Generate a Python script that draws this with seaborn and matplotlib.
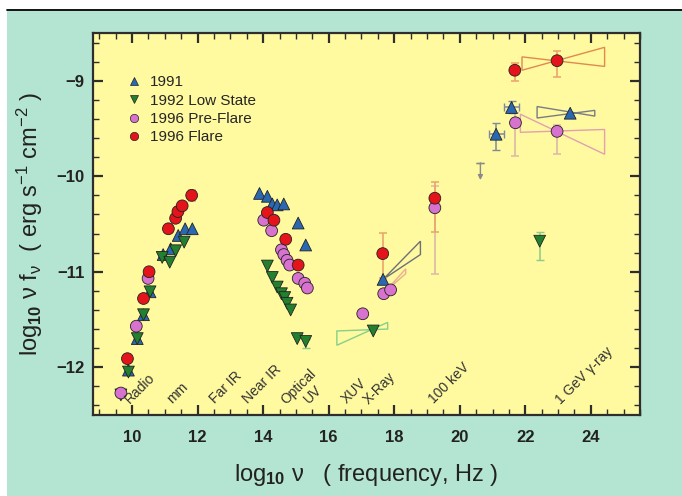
import matplotlib
matplotlib.use("Agg")
import matplotlib.pyplot as plt
from matplotlib.patches import Rectangle, Polygon
from matplotlib.lines import Line2D
from matplotlib.ticker import MultipleLocator
import pandas as pd
import seaborn as sns

# log10 frequency (Hz) and log10 nu F_nu (erg s^-1 cm^-2) for each epoch
nu_1991 = [9.89, 10.16, 10.35, 10.55, 10.95, 11.18, 11.41, 11.62, 11.84,
           13.89, 14.13, 14.28, 14.43, 14.63, 15.07, 15.30,
           17.66, 21.11, 21.58, 23.37]
f_1991 = [-12.03, -11.70, -11.45, -11.21, -10.82, -10.76, -10.62, -10.55, -10.55,
          -10.18, -10.21, -10.29, -10.30, -10.29, -10.49, -10.72,
          -11.08, -9.56, -9.28, -9.34]

nu_1992 = [9.66, 9.89, 10.16, 10.35, 10.55, 10.92, 11.15, 11.33, 11.59,
           14.13, 14.28, 14.43, 14.56, 14.66, 14.73, 14.84, 15.04, 15.30,
           17.36, 22.44]
f_1992 = [-12.29, -12.05, -11.70, -11.45, -11.21, -10.85, -10.90, -10.78, -10.69,
          -10.94, -11.06, -11.16, -11.23, -11.27, -11.33, -11.40, -11.70, -11.73,
          -11.62, -10.68]

nu_pre = [9.66, 10.13, 10.49,
          14.02, 14.26, 14.56, 14.63, 14.73, 14.81, 15.07, 15.27, 15.35,
          17.04, 17.68, 17.89, 19.24, 21.70, 22.97]
f_pre = [-12.27, -11.57, -11.07,
         -10.46, -10.57, -10.77, -10.82, -10.88, -10.93, -11.07, -11.12, -11.17,
         -11.44, -11.23, -11.19, -10.33, -9.44, -9.53]

nu_flare = [9.86, 10.35, 10.52, 11.11, 11.33, 11.40, 11.53, 11.82,
            14.13, 14.33, 14.69, 15.07,
            17.65, 19.24, 21.68, 22.97]
f_flare = [-11.91, -11.28, -11.00, -10.55, -10.44, -10.37, -10.31, -10.20,
           -10.38, -10.46, -10.66, -10.93,
           -10.81, -10.23, -8.89, -8.79]

# error bars: position, lower and upper ends (log10 nu F_nu), half width in log10 nu
err_flare_nu = [11.82, 17.65, 19.24, 21.68, 22.97]
err_flare_lo = [-10.26, -11.07, -10.58, -9.00, -8.96]
err_flare_hi = [-10.14, -10.59, -10.06, -8.81, -8.69]

err_pre_nu = [19.24, 21.70, 22.97]
err_pre_lo = [-11.02, -9.79, -9.77]
err_pre_hi = [-10.10, -9.34, -9.46]

err_1991_nu = [21.11, 21.58]
err_1991_f = [-9.56, -9.28]
err_1991_lo = [-9.72, -9.34]
err_1991_hi = [-9.44, -9.21]
err_1991_dnu = [0.23, 0.24]

err_1992_nu = [22.44, 15.30]
err_1992_lo = [-10.88, -11.80]
err_1992_hi = [-10.58, -11.70]

# spectral "bow-ties": (nu_left, f_left_a, f_left_b, nu_right, f_right_a, f_right_b)
bowtie_flare_gamma = (21.90, -8.75, -8.89, 24.42, -8.85, -8.65)
bowtie_1991_gamma = (22.36, -9.27, -9.39, 24.12, -9.37, -9.31)
bowtie_pre_gamma = (21.85, -9.35, -9.54, 24.42, -9.77, -9.51)
bowtie_1991_xray = (17.66, -11.08, -11.08, 18.80, -10.82, -10.68)
bowtie_pre_xray = (17.72, -11.21, -11.21, 18.35, -11.02, -10.97)
bowtie_1992_xray = (16.25, -11.62, -11.77, 17.80, -11.60, -11.53)

# upper limit near 100 MeV
limit_nu = 20.63
limit_top = -9.86
limit_bottom = -10.04

# frequency bands written along the bottom
band_names = ["Radio", "mm", "Far IR", "Near IR", "Optical", "UV",
              "XUV", "X-Ray", "100 keV", "1 GeV \u03b3-ray"]
band_nu = [9.92, 11.22, 12.52, 13.54, 14.71, 15.41, 16.54, 17.21, 19.20, 23.08]
band_f = -12.39

series_names = ["1991", "1992 Low State", "1996 Pre-Flare", "1996 Flare"]

df = pd.concat([
    pd.DataFrame({"nu": nu_1991, "f": f_1991, "epoch": series_names[0]}),
    pd.DataFrame({"nu": nu_1992, "f": f_1992, "epoch": series_names[1]}),
    pd.DataFrame({"nu": nu_pre, "f": f_pre, "epoch": series_names[2]}),
    pd.DataFrame({"nu": nu_flare, "f": f_flare, "epoch": series_names[3]}),
], ignore_index=True)

palette = {"1991": "#2B68B2", "1992 Low State": "#23802E",
           "1996 Pre-Flare": "#D872CF", "1996 Flare": "#E5141B"}
markers = {"1991": "^", "1992 Low State": "v",
           "1996 Pre-Flare": "o", "1996 Flare": "o"}

sns.set_theme(style="ticks")
plt.rcParams["font.family"] = ["Liberation Sans", "DejaVu Sans"]
plt.rcParams["mathtext.fontset"] = "custom"
plt.rcParams["mathtext.rm"] = "Liberation Sans"
plt.rcParams["mathtext.bf"] = "Liberation Sans:bold"
plt.rcParams["mathtext.it"] = "Liberation Sans:italic"

teal = "#B4E4D2"
yellow = "#FFF9A0"
frame = "#2E2E2E"

fig = plt.figure(figsize=(6.82, 4.96), dpi=100, facecolor="white")
fig.patches.append(Rectangle((7 / 682, 0), 1, 485 / 496, transform=fig.transFigure,
                             facecolor=teal, edgecolor="none", zorder=-10))
fig.add_artist(Line2D([7 / 682, 1], [486 / 496, 486 / 496], color="black", lw=1.3))

ax = fig.add_axes([92.7 / 682, 81 / 496, 547.3 / 682, 382 / 496])
ax.set_facecolor(yellow)


def bowtie(ax, spec, color, lw=1.0):
    xl, yl_a, yl_b, xr, yr_a, yr_b = spec
    poly = Polygon([(xl, yl_a), (xr, yr_a), (xr, yr_b), (xl, yl_b)], closed=True,
                   fill=False, edgecolor=color, lw=lw, zorder=2)
    ax.add_patch(poly)


bowtie(ax, bowtie_flare_gamma, "#E08A50")
bowtie(ax, bowtie_1991_gamma, "#7A7C86")
bowtie(ax, bowtie_pre_gamma, "#E2A0B0")
bowtie(ax, bowtie_1991_xray, "#6E7078")
bowtie(ax, bowtie_pre_xray, "#E8B090")
bowtie(ax, bowtie_1992_xray, "#86D08A")

# error bars
ax.errorbar(err_flare_nu, [(a + b) / 2 for a, b in zip(err_flare_lo, err_flare_hi)],
            yerr=[(b - a) / 2 for a, b in zip(err_flare_lo, err_flare_hi)],
            fmt="none", ecolor="#EBA46A", elinewidth=1.2, capsize=3, capthick=1.1, zorder=2)
ax.errorbar(err_pre_nu, [(a + b) / 2 for a, b in zip(err_pre_lo, err_pre_hi)],
            yerr=[(b - a) / 2 for a, b in zip(err_pre_lo, err_pre_hi)],
            fmt="none", ecolor="#DDB8A8", elinewidth=1.2, capsize=3, capthick=1.1, zorder=1.9)
ax.errorbar(err_1991_nu, err_1991_f,
            yerr=[[f - lo for f, lo in zip(err_1991_f, err_1991_lo)],
                  [hi - f for f, hi in zip(err_1991_f, err_1991_hi)]],
            xerr=err_1991_dnu,
            fmt="none", ecolor="#7E8C9A", elinewidth=1.1, capsize=3, capthick=1.0, zorder=2)
ax.errorbar(err_1992_nu, [(a + b) / 2 for a, b in zip(err_1992_lo, err_1992_hi)],
            yerr=[(b - a) / 2 for a, b in zip(err_1992_lo, err_1992_hi)],
            fmt="none", ecolor="#8CCB8C", elinewidth=1.1, capsize=3, capthick=1.0, zorder=2)

# upper limit
ax.annotate("", xy=(limit_nu, limit_bottom), xytext=(limit_nu, limit_top),
            arrowprops=dict(arrowstyle="-|>", color="#8A8A8A", lw=1.0,
                            mutation_scale=7, shrinkA=0, shrinkB=0), zorder=2)
ax.errorbar([limit_nu], [limit_top], yerr=[[0], [0]], fmt="none",
            ecolor="#8A8A8A", capsize=3, capthick=1.0)

sns.scatterplot(data=df, x="nu", y="f", hue="epoch", style="epoch",
                palette=palette, markers=markers, s=72, edgecolor="#222222",
                linewidth=0.6, legend=False, ax=ax, zorder=3)

ax.set_xlim(8.8, 25.5)
ax.set_ylim(-12.5, -8.5)

ax.xaxis.set_major_locator(MultipleLocator(2))
ax.xaxis.set_minor_locator(MultipleLocator(0.5))
ax.yaxis.set_major_locator(MultipleLocator(1))
ax.yaxis.set_minor_locator(MultipleLocator(0.2))
ax.tick_params(which="both", direction="in", top=True, right=True, color=frame)
ax.tick_params(which="major", length=7, width=1.6, labelsize=12,
               labelcolor="#222222")
ax.tick_params(axis="x", which="major", pad=11)
ax.tick_params(axis="y", which="major", pad=6)
ax.tick_params(which="minor", length=4, width=1.0)
for lab in ax.get_xticklabels() + ax.get_yticklabels():
    lab.set_fontweight("bold")
for sp in ax.spines.values():
    sp.set_color(frame)
    sp.set_linewidth(1.6)

ax.set_xlabel(r"log$_{\mathbf{10}}$ ν   ( frequency, Hz )", fontsize=17,
              color="#222222", labelpad=12)
ax.set_ylabel(r"log$_{\mathbf{10}}$ ν f$_{\mathregular{ν}}$  ( erg s$^{\mathregular{-1}}$ cm$^{\mathregular{-2}}$ )",
              fontsize=17, color="#222222", labelpad=8)

for name, x in zip(band_names, band_nu):
    ax.text(x, band_f, name, rotation=45, rotation_mode="anchor", ha="left",
            va="baseline", fontsize=10, color="#333333", zorder=4)

handles = [Line2D([], [], ls="none", marker=markers[n], markerfacecolor=palette[n],
                  markeredgecolor="#222222", markeredgewidth=0.5, markersize=6)
           for n in series_names]
ax.legend(handles, series_names, loc="upper left", bbox_to_anchor=(0.047, 0.905),
          frameon=False, fontsize=11, handletextpad=0.45, labelspacing=0.28,
          handlelength=1.2, borderaxespad=0)

fig.savefig("out.png", dpi=100, facecolor=fig.get_facecolor())
